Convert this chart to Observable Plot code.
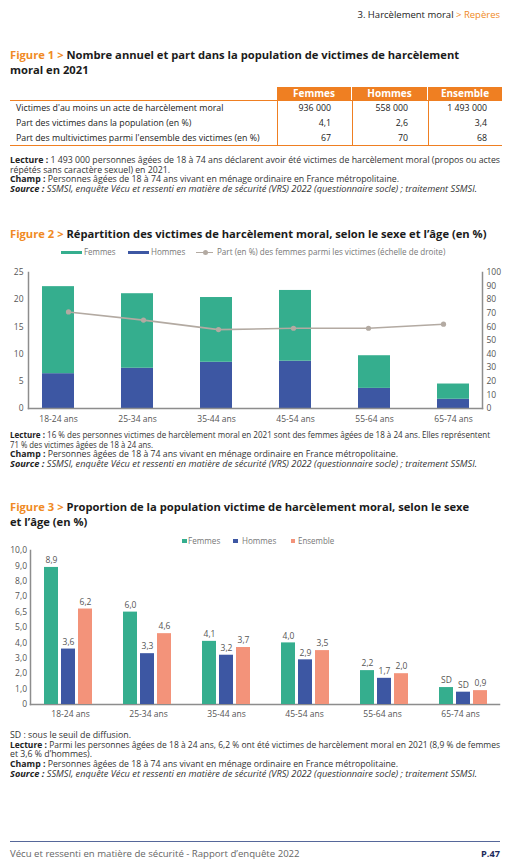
<!DOCTYPE html>
<html><head><meta charset="utf-8">
<script src="https://cdn.jsdelivr.net/npm/d3@7"></script>
<script src="https://cdn.jsdelivr.net/npm/@observablehq/plot@0.6"></script>
<style>
body{margin:0;background:#fff;}
#page{position:relative;width:520px;height:861px;font-family:"Open Sans",sans-serif;color:#222;overflow:hidden;background:#fff}
.abs{position:absolute;white-space:nowrap}
.title{font-weight:700;font-size:11.2px;line-height:15px;color:#1b1b1b}
.title .fig{color:#f08a24}
.note{font-size:8.2px;color:#333}
.note b{font-weight:700;color:#222}
.note .src{font-style:italic}
.leg{font-size:8.5px;line-height:10px;color:#777}
.cell{position:absolute;box-sizing:border-box;white-space:nowrap}
svg{position:absolute;left:0}
</style></head>
<body><div id="page"></div>
<script>
// ---------- DATA ----------
const tableRows = ["Victimes d'au moins un acte de harcèlement moral","Part des victimes dans la population (en %)","Part des multivictimes parmi l'ensemble des victimes (en %)"];
const tableCols = ["Femmes","Hommes","Ensemble"];
const tableFemmes = ["936 000","4,1","67"];
const tableHommes = ["558 000","2,6","70"];
const tableEnsemble = ["1 493 000","3,4","68"];

const ages = ["18-24 ans","25-34 ans","35-44 ans","45-54 ans","55-64 ans","65-74 ans"];
const fig2Femmes = [16.0, 13.7, 11.9, 13.0, 6.0, 2.8];
const fig2Hommes = [6.4, 7.4, 8.5, 8.7, 3.7, 1.7];
const fig2PartFemmes = [71, 65, 58, 59, 59, 62];
const fig2LeftTicks = [0,5,10,15,20,25];
const fig2RightTicks = [0,10,20,30,40,50,60,70,80,90,100];

const series3 = ["Femmes","Hommes","Ensemble"];
const fig3Femmes = [8.9, 6.0, 4.1, 4.0, 2.2, 1.1];
const fig3Hommes = [3.6, 3.3, 3.2, 2.9, 1.7, 0.8];
const fig3Ensemble = [6.2, 4.6, 3.7, 3.5, 2.0, 0.9];
const fig3SousSeuil = [["65-74 ans","Femmes"],["65-74 ans","Hommes"]];
const fig3Ticks = [0,1,2,3,4,5,6,7,8,9,10];
const fig3TickLabels = ["0","1,0","2,0","3,0","4,0","5,0","6,5","7,0","8,0","9,0","10,0"];

// ---------- STYLE ----------
const GREEN="#35ae8e", BLUE="#3d57a3", SALMON="#f3937a", LINE="#b3aaa2", AXIS="#8d8d8d", ORANGE="#ef7f22";
const page = document.getElementById("page");
function add(html, css, cls){const d=document.createElement("div");d.className="abs "+(cls||"");d.innerHTML=html;Object.assign(d.style,css);page.appendChild(d);return d;}
// text stretched horizontally so it spans [left, right] like the reference
function fit(html, left, top, right, css, cls){
  const d=add(html,{left:left+"px",top:top+"px",...css},cls);
  const w=d.getBoundingClientRect().width;
  d.style.transformOrigin="0 0";
  d.style.transform=`scaleX(${(right-left)/w})`;
  return d;
}
function notes(lines, top, lh){
  lines.forEach(([html,right],i)=>fit(html,10,top+i*lh,right,{lineHeight:lh+"px"},"note"));
}

// header
add('3. Harcèlement moral <span style="color:#f08a24">&gt; Repères</span>',{right:"20px",top:"8.6px",fontSize:"9.5px",lineHeight:"12px",color:"#222"});

// Figure 1
add('<span class="fig">Figure 1 &gt; </span>Nombre annuel et part dans la population de victimes de harcèlement<br>moral en 2021',{left:"10px",top:"46.5px"},"title");

const T = document.createElement("div");
Object.assign(T.style,{position:"absolute",left:"10px",top:"86.7px",width:"492px",height:"60px"});
page.appendChild(T);
const colX=[267,342,418], colW=[74,75,74], padR=[20,19,15];
tableCols.forEach((c,j)=>{
  const h=document.createElement("div");h.className="cell";h.textContent=c;
  Object.assign(h.style,{left:colX[j]+"px",top:"0px",width:colW[j]+"px",height:"13.3px",background:ORANGE,color:"#fff",fontWeight:"700",fontSize:"10px",lineHeight:"13.3px",textAlign:"center"});
  T.appendChild(h);
});
const hl=document.createElement("div");Object.assign(hl.style,{position:"absolute",left:"0",top:"13.3px",width:"492px",height:"1.2px",background:ORANGE});T.appendChild(hl);
const bl=document.createElement("div");Object.assign(bl.style,{position:"absolute",left:"0",top:"58.4px",width:"492px",height:"1.2px",background:ORANGE});T.appendChild(bl);
[267,342,418].forEach(x=>{const v=document.createElement("div");Object.assign(v.style,{position:"absolute",left:(x-0.5)+"px",top:"14px",width:"1px",height:"44.5px",background:ORANGE});T.appendChild(v);});
const cols=[tableFemmes,tableHommes,tableEnsemble];
tableRows.forEach((r,i)=>{
  const top=14+i*15;
  const l=document.createElement("div");l.className="cell";l.textContent=r;
  Object.assign(l.style,{left:"6px",top:top+"px",height:"15px",lineHeight:"15px",fontSize:"8.8px",color:"#222"});T.appendChild(l);
  cols.forEach((col,j)=>{
    const c=document.createElement("div");c.className="cell";c.textContent=col[i];
    Object.assign(c.style,{left:colX[j]+"px",width:colW[j]+"px",paddingRight:padR[j]+"px",top:top+"px",height:"15px",lineHeight:"15px",fontSize:"8.8px",textAlign:"right",color:"#222"});T.appendChild(c);
  });
});

const champ='<b>Champ :</b> Personnes âgées de 18 à 74 ans vivant en ménage ordinaire en France métropolitaine.';
const source='<span class="src"><b>Source :</b> SSMSI, enquête Vécu et ressenti en matière de sécurité (VRS) 2022 (questionnaire socle) ; traitement SSMSI.</span>';
notes([
  ['<b>Lecture :</b> 1 493 000 personnes âgées de 18 à 74 ans déclarent avoir été victimes de harcèlement moral (propos ou actes',500],
  ['répétés sans caractère sexuel) en 2021.',170],
  [champ,399],[source,477]
],155,9.67);

// Figure 2
add('<span class="fig">Figure 2 &gt; </span>Répartition des victimes de harcèlement moral, selon le sexe et l’âge (en %)',{left:"10px",top:"225.5px"},"title");
add('',{left:"61px",top:"250.7px",width:"21px",height:"3.4px",background:GREEN});
fit('Femmes',83.5,246.8,115,{},"leg");
add('',{left:"127.7px",top:"250.7px",width:"21px",height:"3.4px",background:BLUE});
fit('Hommes',150.7,246.8,185,{},"leg");
add('',{left:"195.7px",top:"251.6px",width:"17.6px",height:"1.5px",background:LINE});
add('',{left:"203px",top:"250px",width:"5px",height:"5px",borderRadius:"50%",background:LINE});
fit('Part (en %) des femmes parmi les victimes (échelle de droite)',216.7,246.8,445,{},"leg");

const fig2Data = ages.flatMap((a,i)=>[{age:a,sexe:"Hommes",v:fig2Hommes[i]},{age:a,sexe:"Femmes",v:fig2Femmes[i]}]);
const fig2Part = ages.map((a,i)=>({age:a,part:fig2PartFemmes[i]}));
const dims2 = {width:520,height:170,marginTop:10,marginBottom:24,marginLeft:28,marginRight:38};
const x2 = {domain:ages,paddingInner:0.597,paddingOuter:0.157,label:null};
const st = {fontFamily:"Open Sans",fontSize:"8.5px",color:"#555",background:"transparent",overflow:"visible"};
const p2 = Plot.plot({...dims2, style:st,
  x:x2, y:{domain:[0,25],label:null},
  color:{domain:["Femmes","Hommes"],range:[GREEN,BLUE]},
  marks:[
    Plot.barY(fig2Data,{x:"age",y:"v",fill:"sexe",z:"sexe",order:["Hommes","Femmes"]}),
    Plot.frame({anchor:"left",stroke:AXIS,strokeWidth:1.5}),
    Plot.frame({anchor:"bottom",stroke:AXIS,strokeWidth:1.5}),
    Plot.axisY({ticks:fig2LeftTicks,tickSize:0,tickPadding:5,label:null}),
    Plot.axisX({tickSize:0,tickPadding:7,label:null})
  ]});
p2.style.top="262px"; page.appendChild(p2);
const p2b = Plot.plot({...dims2, style:st,
  x:{...x2,axis:null}, y:{domain:[0,100],label:null},
  marks:[
    Plot.frame({anchor:"right",stroke:AXIS,strokeWidth:1.5}),
    Plot.axisY({anchor:"right",ticks:fig2RightTicks,tickSize:0,tickPadding:4,label:null}),
    Plot.lineY(fig2Part,{x:"age",y:"part",stroke:LINE,strokeWidth:1.6}),
    Plot.dot(fig2Part,{x:"age",y:"part",r:2.6,fill:LINE})
  ]});
p2b.style.top="262px"; page.appendChild(p2b);

notes([
  ['<b>Lecture :</b> 16 % des personnes victimes de harcèlement moral en 2021 sont des femmes âgées de 18 à 24 ans. Elles représentent',490],
  ['71 % des victimes âgées de 18 à 24 ans.',153],
  [champ,398],[source,477]
],430,9.5);

// Figure 3
add('<span class="fig">Figure 3 &gt; </span>Proportion de la population victime de harcèlement moral, selon le sexe<br>et l’âge (en %)',{left:"10px",top:"498.9px"},"title");
add('',{left:"182.3px",top:"539px",width:"4.3px",height:"4.3px",background:GREEN});
fit('Femmes',187.7,535.9,220,{},"leg");
add('',{left:"233.3px",top:"539px",width:"4.3px",height:"4.3px",background:BLUE});
fit('Hommes',241.7,535.9,276,{},"leg");
add('',{left:"290.7px",top:"539px",width:"4.3px",height:"4.3px",background:SALMON});
fit('Ensemble',297.7,535.9,334,{},"leg");

const fmt = v => d3.format(".1f")(v).replace(".",",");
const isSD = (a,s) => fig3SousSeuil.some(([aa,ss])=>aa===a&&ss===s);
const vals3 = {Femmes:fig3Femmes,Hommes:fig3Hommes,Ensemble:fig3Ensemble};
const fig3Data = ages.flatMap((a,i)=>series3.map(s=>({age:a,serie:s,v:vals3[s][i],label:isSD(a,s)?"SD":fmt(vals3[s][i])})));
const dims3 = {width:520,height:185,marginTop:10,marginBottom:21,marginLeft:30,marginRight:21};
const band3 = {domain:ages,paddingInner:0.385,paddingOuter:0.16};
const p3 = Plot.plot({...dims3, style:st,
  x:{...band3,label:null}, y:{domain:[0,10],label:null},
  marks:[
    Plot.frame({anchor:"left",stroke:AXIS,strokeWidth:1.5}),
    Plot.frame({anchor:"bottom",stroke:AXIS,strokeWidth:1.5}),
    Plot.axisY({ticks:fig3Ticks,tickFormat:d=>fig3TickLabels[fig3Ticks.indexOf(d)],tickSize:0,tickPadding:3.5,label:null}),
    Plot.axisX({tickSize:0,tickPadding:6,label:null})
  ]});
p3.style.top="540px"; page.appendChild(p3);
const p3b = Plot.plot({...dims3, style:st,
  fx:{...band3,axis:null,label:null},
  x:{domain:series3,paddingInner:0.19,paddingOuter:0,axis:null},
  y:{domain:[0,10],axis:null},
  color:{domain:series3,range:[GREEN,BLUE,SALMON]},
  marks:[
    Plot.barY(fig3Data,{fx:"age",x:"serie",y:"v",fill:"serie"}),
    Plot.text(fig3Data,{fx:"age",x:"serie",y:"v",text:"label",dy:-7,fill:"#555",fontSize:8.5})
  ]});
p3b.style.top="540px"; page.appendChild(p3b);

notes([
  ['SD : sous le seuil de diffusion.',131],
  ['<b>Lecture :</b> Parmi les personnes âgées de 18 à 24 ans, 6,2 % ont été victimes de harcèlement moral en 2021 (8,9 % de femmes',500],
  ['et 3,6 % d’hommes).',92],
  [champ,398],[source,477]
],730,9.7);

// footer
add('',{left:"10px",top:"841.3px",width:"490px",height:"1px",background:"#56679a"});
add('Vécu et ressenti en matière de sécurité - Rapport d’enquête 2022',{left:"10px",top:"847.6px",fontSize:"9.6px",lineHeight:"11px",color:"#666"});
add('P.47',{right:"20px",top:"847.6px",fontSize:"9.2px",lineHeight:"11px",fontWeight:"700",color:"#1d2a5b"});
</script></body></html>
